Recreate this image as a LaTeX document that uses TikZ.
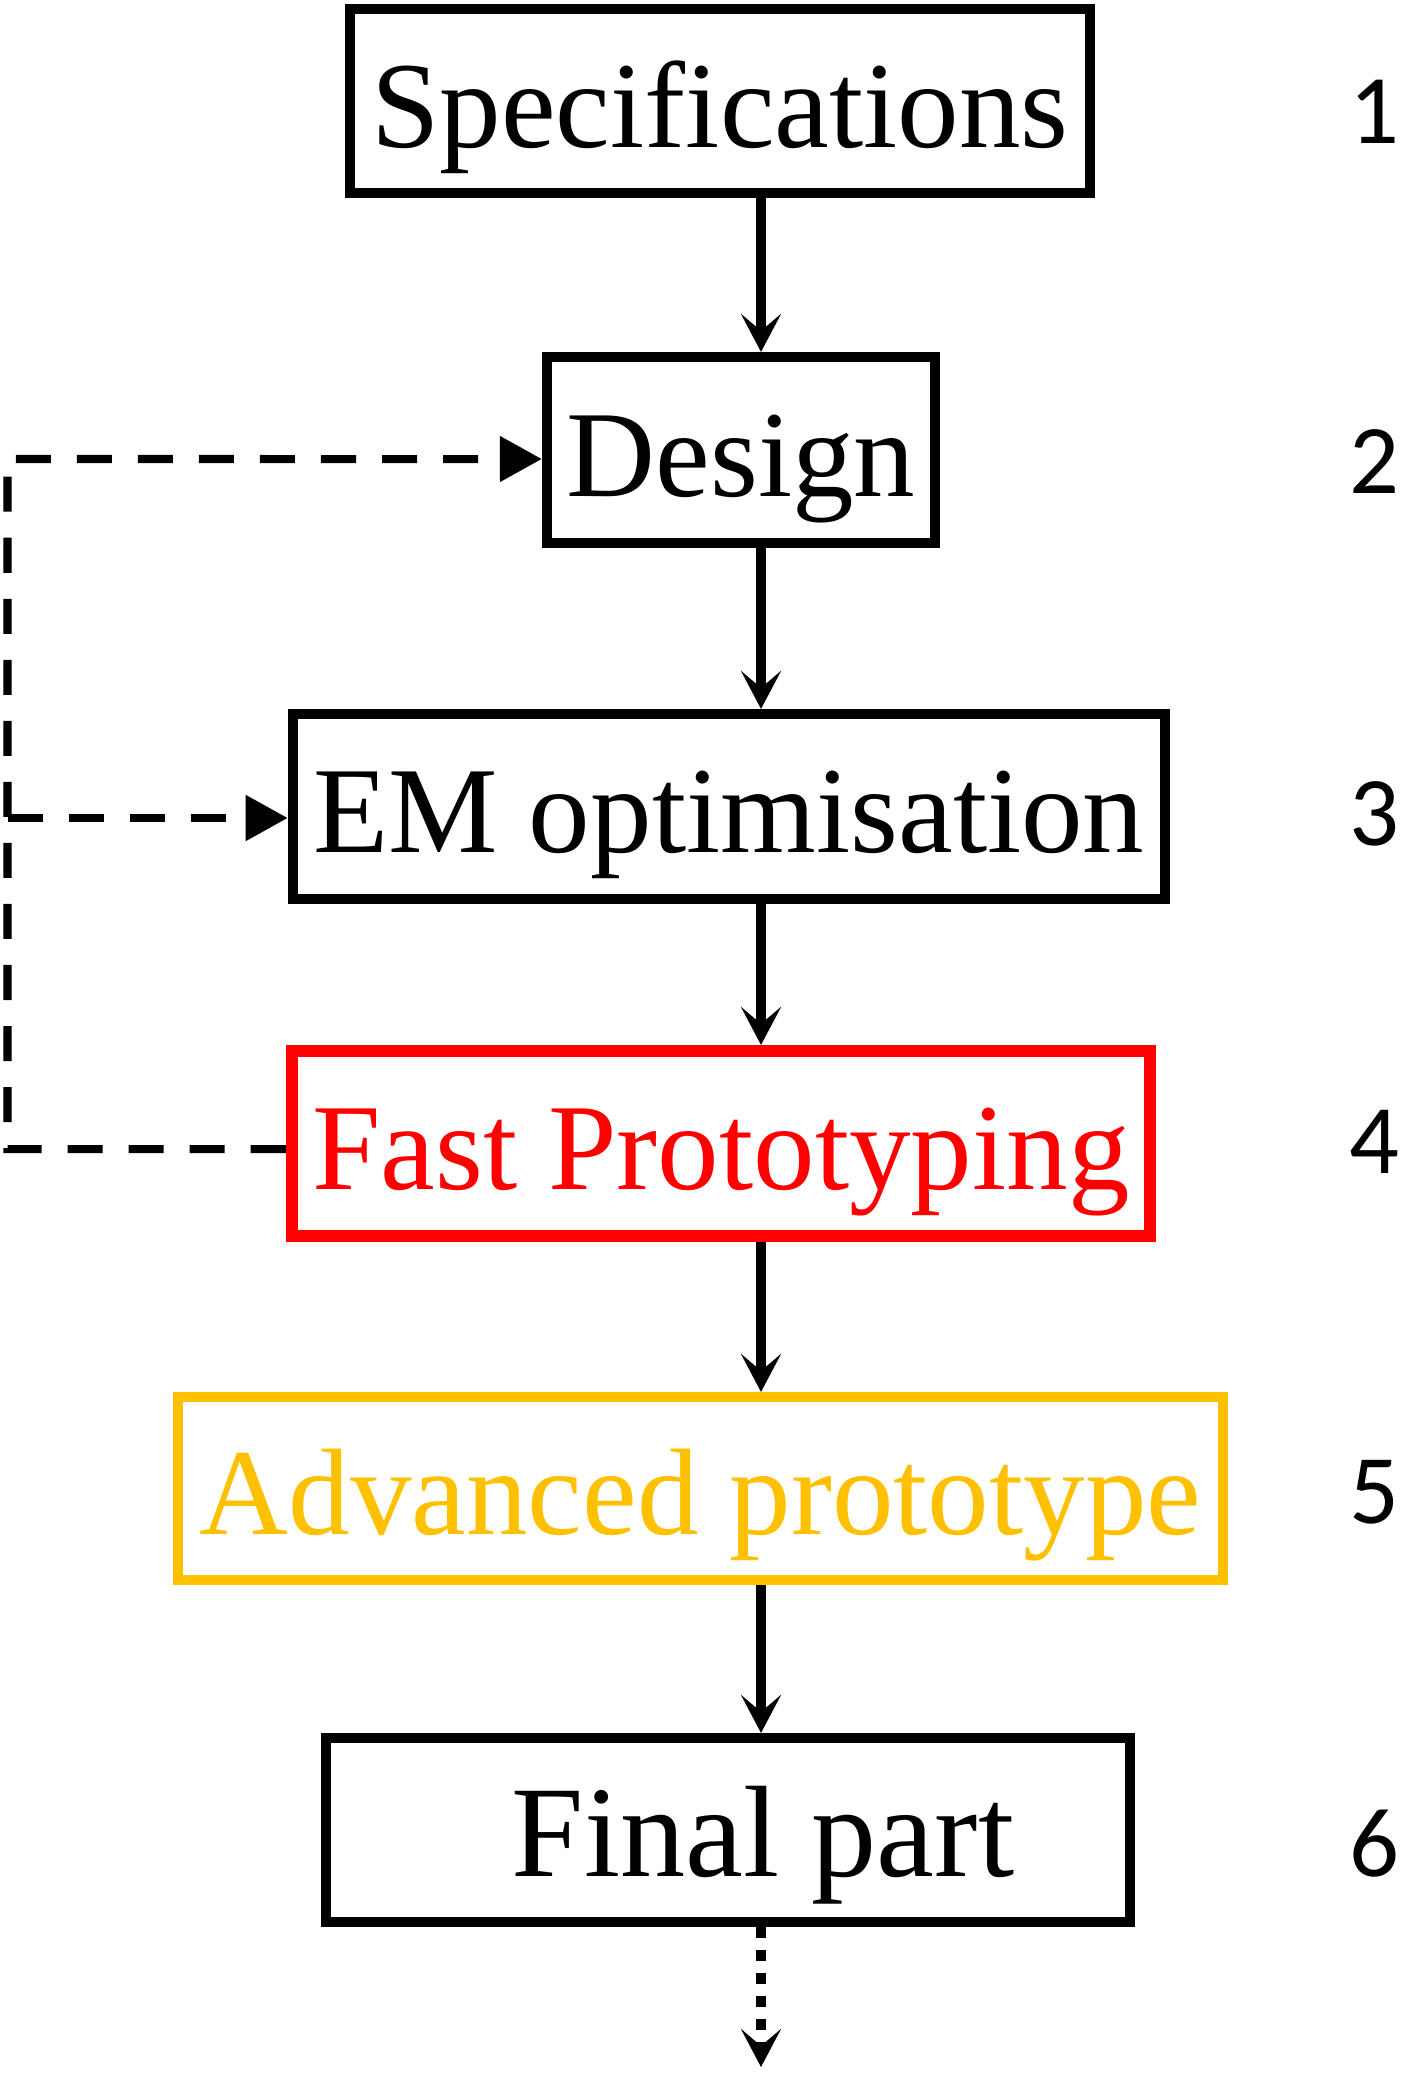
\documentclass[tikz,border=0pt]{standalone}
\usepackage{fontspec}
\setmainfont{Liberation Serif}
\newfontfamily\numfont{Carlito}
\usetikzlibrary{arrows.meta}
\definecolor{advorange}{RGB}{255,192,0}
\begin{document}
\begin{tikzpicture}[x=0.01cm,y=-0.01cm,
    stage/.style={draw,line width=0.1cm,inner sep=0pt,text height=1.17cm,text depth=0.25cm,font=\fontsize{35}{40}\selectfont},
    num/.style={font=\numfont\fontsize{28}{32}\selectfont},
    flow/.style={line width=0.1cm,-{Stealth[length=0.38cm,width=0.4cm,inset=0.17cm]}},
    loopline/.style={line width=0.08cm,dash pattern=on 0.35cm off 0.26cm,-{Triangle[length=0.42cm,width=0.44cm]}}]
        \useasboundingbox (0,0) rectangle (1400,2073);
        \node[stage,minimum width=7.4cm,minimum height=1.84cm](spec)at(720,101){Specifications};
        \node[stage,minimum width=3.88cm,minimum height=1.86cm](design)at(741,450){Design};
        \node[stage,minimum width=8.72cm,minimum height=1.85cm](em)at(729,806.5){EM optimisation};
        \node[stage,red,line width=0.12cm,minimum width=8.58cm,minimum height=1.85cm](fast)at(721,1143.5){Fast Prototyping};
        \node[stage,advorange,minimum width=10.45cm,minimum height=1.83cm](adv)at(700.5,1488.5){Advanced prototype};
        \node[stage,font=\fontsize{37}{42}\selectfont,minimum width=8.04cm,minimum height=1.84cm](final)at(728,1830){\hspace*{0.7cm}Final part};
        \foreach \n/\y in {1/112,2/462,3/814,4/1142,5/1492,6/1844} \node[num](n\n)at(1374,\y){\n};
        \coordinate (axis) at (761,0);
        \coordinate (stop) at (761,2067);
        \draw[flow](spec.south -| axis)--(design.north -| axis);
        \draw[flow](design.south -| axis)--(em.north -| axis);
        \draw[flow](em.south -| axis)--(fast.north -| axis);
        \draw[flow](fast.south -| axis)--(adv.north -| axis);
        \draw[flow](adv.south -| axis)--(final.north -| axis);
        \draw[flow,dash pattern=on 0.11cm off 0.12cm](final.south -| axis)--(stop);
        % feedback from prototyping
        \coordinate (loop) at (7.5,459);
        \coordinate (fpout) at ([yshift=-0.055cm]fast.west);
        \coordinate (emin) at ([yshift=-0.115cm]em.west);
        \draw[loopline](fpout)-|(loop)--([yshift=-0.09cm]design.west);
        \draw[loopline](emin -| loop)--(emin);
    \end{tikzpicture}
\end{document}
